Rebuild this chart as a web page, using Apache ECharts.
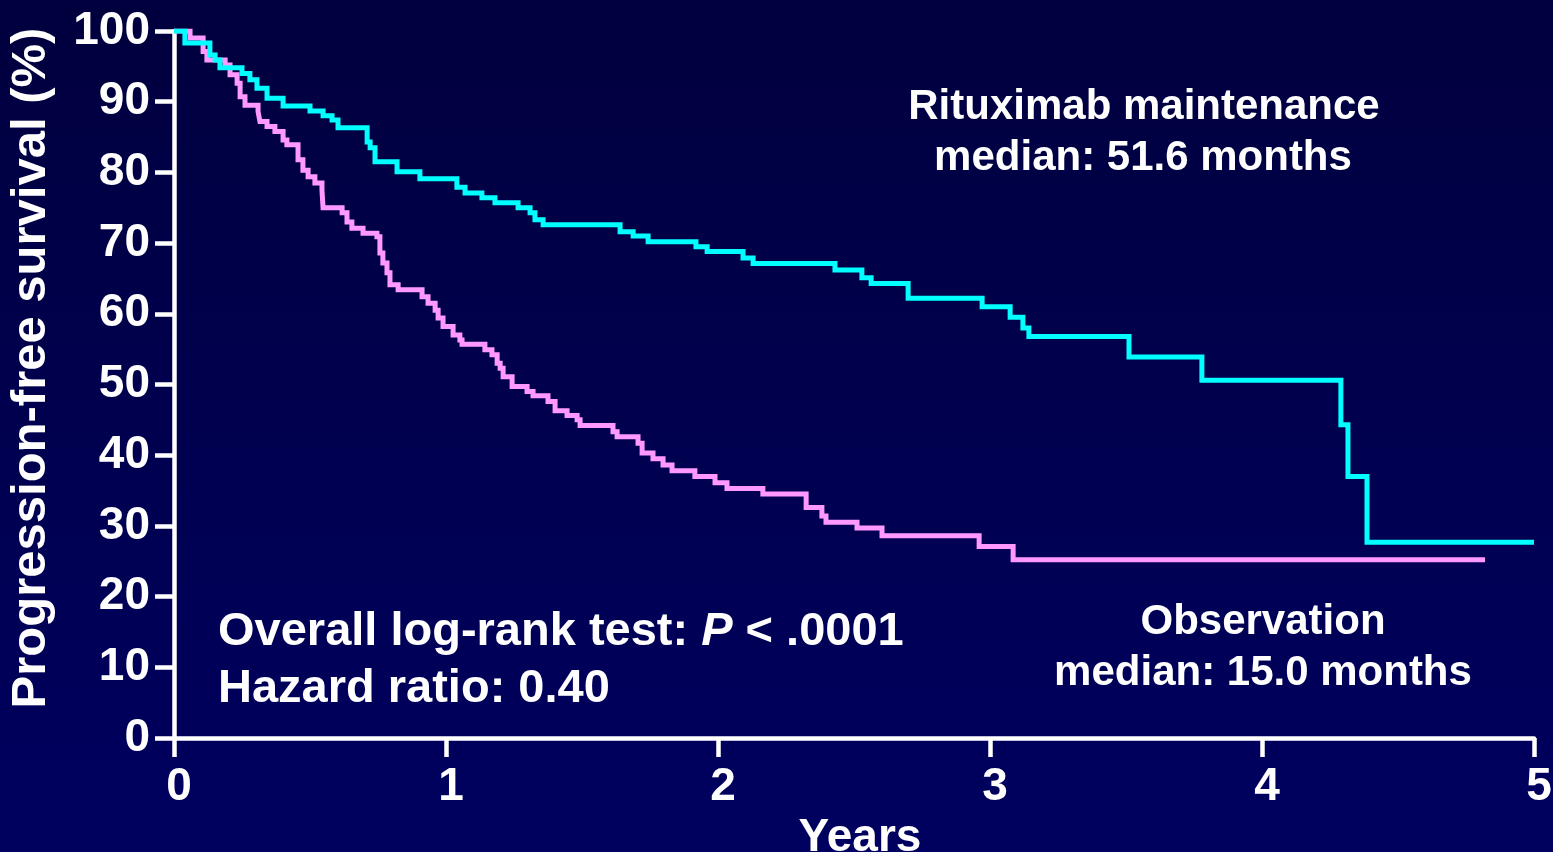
<!DOCTYPE html>
<html>
<head>
<meta charset="utf-8">
<script src="https://cdn.jsdelivr.net/npm/echarts@6/dist/echarts.min.js"></script>
<style>
html,body{margin:0;padding:0;background:#00004a;}
#chart{width:1553px;height:852px;}
</style>
</head>
<body>
<div id="chart"></div>
<script>
// Tick labels
const xTicks = [0, 1, 2, 3, 4, 5];
const yTicks = [0, 10, 20, 30, 40, 50, 60, 70, 80, 90, 100];

// Observation arm (years, PFS %)
const obsYears = [0, 0.059, 0.107, 0.121, 0.188, 0.206, 0.232, 0.243, 0.261, 0.309, 0.316, 0.342, 0.371, 0.401, 0.415, 0.456, 0.474, 0.493, 0.518, 0.544, 0.548, 0.618, 0.636, 0.654, 0.695, 0.746, 0.757, 0.768, 0.783, 0.794, 0.824, 0.912, 0.934, 0.960, 0.971, 0.989, 1.026, 1.051, 1.059, 1.143, 1.169, 1.188, 1.199, 1.210, 1.243, 1.298, 1.320, 1.375, 1.401, 1.445, 1.482, 1.493, 1.614, 1.629, 1.706, 1.721, 1.761, 1.798, 1.831, 1.915, 1.989, 2.033, 2.165, 2.324, 2.382, 2.397, 2.511, 2.603, 2.960, 3.085, 4.82];
const obsPFS = [100, 99.0, 97.1, 95.9, 95.2, 93.8, 92.6, 90.7, 89.5, 88.6, 87.2, 86.5, 85.8, 84.6, 83.9, 81.8, 80.3, 79.4, 78.5, 77.5, 75.0, 74.3, 73.0, 72.1, 71.4, 70.9, 68.6, 67.2, 65.8, 64.1, 63.4, 62.4, 61.5, 60.5, 59.4, 58.2, 57.0, 56.3, 55.7, 54.9, 54.2, 53.0, 52.3, 51.1, 49.7, 49.0, 48.4, 47.6, 46.3, 45.6, 45.0, 44.2, 43.3, 42.6, 41.7, 40.3, 39.5, 38.6, 37.8, 37.0, 36.1, 35.3, 34.5, 32.6, 31.4, 30.5, 29.7, 28.6, 27.1, 25.2, 25.2];

// Rituximab maintenance arm (years, PFS %)
const ritYears = [0, 0.040, 0.132, 0.151, 0.169, 0.25, 0.279, 0.305, 0.342, 0.401, 0.5, 0.548, 0.581, 0.603, 0.710, 0.721, 0.739, 0.820, 0.904, 1.040, 1.070, 1.132, 1.180, 1.265, 1.309, 1.327, 1.357, 1.640, 1.688, 1.743, 1.919, 1.960, 2.092, 2.129, 2.430, 2.529, 2.563, 2.699, 2.971, 3.074, 3.121, 3.143, 3.511, 3.779, 4.290, 4.316, 4.386, 5.0];
const ritPFS = [100, 98.3, 96.6, 95.9, 94.8, 94.0, 93.1, 91.9, 90.5, 89.4, 88.7, 88.0, 87.4, 86.3, 84.3, 83.5, 81.5, 80.1, 79.1, 77.9, 77.1, 76.4, 75.7, 75.0, 74.3, 73.3, 72.6, 71.6, 71.0, 70.2, 69.5, 68.8, 67.9, 67.1, 66.2, 65.1, 64.3, 62.2, 61.0, 59.5, 58.0, 56.8, 53.9, 50.6, 44.3, 37.0, 27.7, 27.7];

const FONT = '"Liberation Sans", Arial, sans-serif';
const zip = (a, b) => a.map((v, i) => [v, b[i]]);

const chart = echarts.init(document.getElementById('chart'), null, {renderer: 'canvas'});
const axisLineStyle = {color: '#ffffff', width: 4.5};

chart.setOption({
  animation: false,
  backgroundColor: {
    type: 'linear', x: 0, y: 0, x2: 0, y2: 1,
    colorStops: [{offset: 0, color: '#00003e'}, {offset: 1, color: '#000060'}]
  },
  grid: {left: 174, right: 19, top: 31, bottom: 114, containLabel: false, outerBoundsMode: 'none'},
  xAxis: {
    type: 'value', min: xTicks[0], max: xTicks[xTicks.length - 1], interval: 1,
    name: 'Years', nameLocation: 'middle', nameGap: 66,
    nameTextStyle: {color: '#fff', fontFamily: FONT, fontWeight: 'bold', fontSize: 46, padding: [0, 0, 0, 12]},
    axisLine: {show: true, onZero: false, lineStyle: axisLineStyle},
    axisTick: {show: true, inside: false, length: 19, lineStyle: axisLineStyle},
    axisLabel: {color: '#fff', fontFamily: FONT, fontWeight: 'bold', fontSize: 46, margin: 26,
      padding: [0, 0, 0, 10],
      formatter: v => xTicks.includes(v) ? String(v) : ''},
    splitLine: {show: false}
  },
  yAxis: {
    type: 'value', min: yTicks[0], max: yTicks[yTicks.length - 1], interval: 10,
    axisLine: {show: true, onZero: false, lineStyle: axisLineStyle},
    axisTick: {show: true, inside: false, length: 19, lineStyle: axisLineStyle},
    axisLabel: {color: '#fff', fontFamily: FONT, fontWeight: 'bold', fontSize: 46, margin: 24,
      formatter: v => yTicks.includes(v) ? String(v) : ''},
    splitLine: {show: false}
  },
  series: [
    {
      name: 'Observation', type: 'line', step: 'end', showSymbol: false, symbol: 'none',
      data: zip(obsYears, obsPFS),
      lineStyle: {color: '#ff99ff', width: 5, cap: 'butt', join: 'miter'},
      z: 2
    },
    {
      name: 'Rituximab maintenance', type: 'line', step: 'end', showSymbol: false, symbol: 'none',
      data: zip(ritYears, ritPFS),
      lineStyle: {color: '#00ffff', width: 5, cap: 'butt', join: 'miter'},
      z: 3
    }
  ],
  graphic: [
    {type: 'text', x: 31, y: 368, rotation: Math.PI / 2,
      style: {text: 'Progression-free survival (%)', fill: '#fff', font: 'bold 49px ' + FONT, textAlign: 'center', textVerticalAlign: 'middle'}},
    {type: 'text', x: 1144, y: 107,
      style: {text: 'Rituximab maintenance', fill: '#fff', font: 'bold 42px ' + FONT, textAlign: 'center', textVerticalAlign: 'middle'}},
    {type: 'text', x: 1143, y: 158,
      style: {text: 'median: 51.6 months', fill: '#fff', font: 'bold 42px ' + FONT, textAlign: 'center', textVerticalAlign: 'middle'}},
    {type: 'text', x: 1263, y: 622,
      style: {text: 'Observation', fill: '#fff', font: 'bold 42px ' + FONT, textAlign: 'center', textVerticalAlign: 'middle'}},
    {type: 'text', x: 1263, y: 673,
      style: {text: 'median: 15.0 months', fill: '#fff', font: 'bold 42px ' + FONT, textAlign: 'center', textVerticalAlign: 'middle'}},
    {type: 'text', x: 218, y: 632,
      style: {
        text: '{n|Overall log-rank test: }{i|P}{n| < .0001}',
        rich: {
          n: {fill: '#fff', fontFamily: FONT, fontWeight: 'bold', fontSize: 47},
          i: {fill: '#fff', fontFamily: FONT, fontWeight: 'bold', fontStyle: 'italic', fontSize: 47}
        },
        textAlign: 'left', textVerticalAlign: 'middle'
      }},
    {type: 'text', x: 218, y: 689,
      style: {text: 'Hazard ratio: 0.40', fill: '#fff', font: 'bold 47px ' + FONT, textAlign: 'left', textVerticalAlign: 'middle'}}
  ]
});
</script>
</body>
</html>
